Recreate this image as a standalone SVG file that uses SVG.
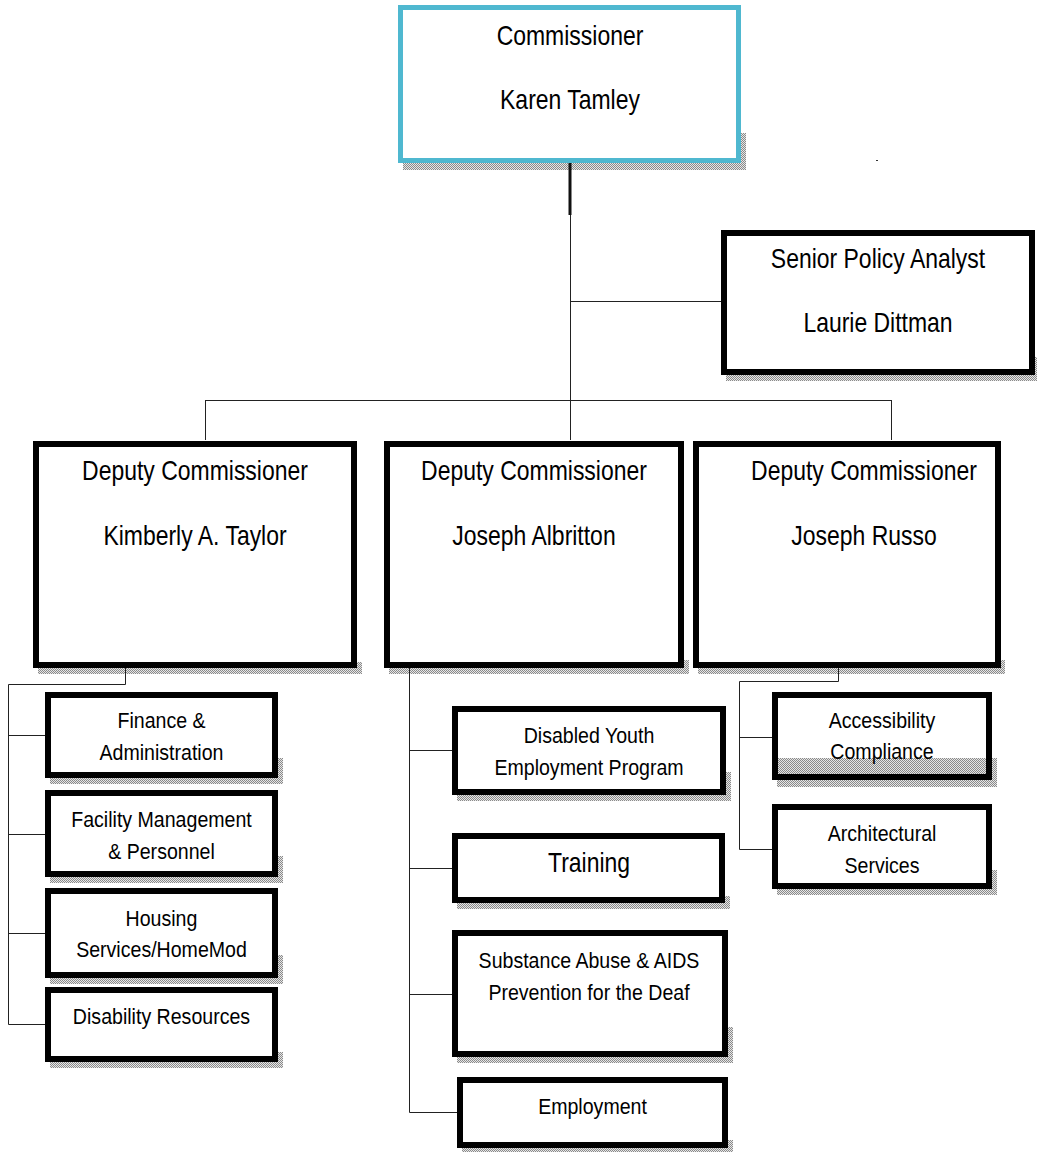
<svg xmlns="http://www.w3.org/2000/svg" width="1037" height="1152" viewBox="0 0 1037 1152">
<defs>
<pattern id="dots" width="2" height="2" patternUnits="userSpaceOnUse">
<rect x="0" y="0" width="1" height="1" fill="#8a8a8a"/>
<rect x="1" y="1" width="1" height="1" fill="#8a8a8a"/>
<rect x="1" y="0" width="1" height="1" fill="#e6e6e6"/>
<rect x="0" y="1" width="1" height="1" fill="#e6e6e6"/>
</pattern>
</defs>
<style>
.box{fill:#fff;stroke:#000;stroke-width:6}
.cbox{fill:#fff;stroke:#4fb8d0;stroke-width:5}
.sh{fill:url(#dots)}
.big{font-family:"Liberation Sans",Arial,sans-serif;font-size:28px;fill:#000;text-anchor:middle}
.sm{font-family:"Liberation Sans",Arial,sans-serif;font-size:22px;fill:#000;text-anchor:middle}
.ln{stroke:#222;stroke-width:1;fill:none}
</style>
<rect width="1037" height="1152" fill="#fff"/>

<g id="commissioner">
<path class="sh" d="M403 163H746V170H403ZM741 133H746V163H741Z"/>
<rect class="cbox" x="400.5" y="7.5" width="338" height="153"/>
<text class="big" transform="translate(570,45) scale(0.82,1)">Commissioner</text>
<text class="big" transform="translate(570,109) scale(0.82,1)">Karen Tamley</text>
</g>
<rect x="876" y="160" width="2" height="1" fill="#333"/>

<g id="senior-policy-analyst">
<path class="sh" d="M726 375H1037V381H726ZM1035 357H1037V375H1035Z"/>
<rect class="box" x="724" y="233" width="308" height="139"/>
<text class="big" transform="translate(878,268) scale(0.82,1)">Senior Policy Analyst</text>
<text class="big" transform="translate(878,332) scale(0.82,1)">Laurie Dittman</text>
</g>

<g id="deputy-taylor">
<path class="sh" d="M38 668H362V674H38ZM357 662H362V668H357Z"/>
<rect class="box" x="36" y="444" width="318" height="221"/>
<text class="big" transform="translate(195,480) scale(0.82,1)">Deputy Commissioner</text>
<text class="big" transform="translate(195,545) scale(0.82,1)">Kimberly A. Taylor</text>
</g>

<g id="deputy-albritton">
<path class="sh" d="M389 668H689V674H389ZM684 660H689V668H684Z"/>
<rect class="box" x="387" y="444" width="294" height="221"/>
<text class="big" transform="translate(534,480) scale(0.82,1)">Deputy Commissioner</text>
<text class="big" transform="translate(534,545) scale(0.82,1)">Joseph Albritton</text>
</g>

<g id="deputy-russo">
<path class="sh" d="M698 668H1005V674H698ZM1000 660H1005V668H1000Z"/>
<rect class="box" x="696" y="444" width="302" height="221"/>
<text class="big" transform="translate(864,480) scale(0.82,1)">Deputy Commissioner</text>
<text class="big" transform="translate(864,545) scale(0.82,1)">Joseph Russo</text>
</g>

<g id="finance">
<path class="sh" d="M50 778H283V784H50ZM278 758H283V778H278Z"/>
<rect class="box" x="48" y="695" width="227" height="80"/>
<text class="sm" transform="translate(161.5,728) scale(0.89,1)">Finance &amp;</text>
<text class="sm" transform="translate(161.5,760) scale(0.89,1)">Administration</text>
</g>

<g id="facility">
<path class="sh" d="M50 877H283V883H50ZM278 856H283V877H278Z"/>
<rect class="box" x="48" y="793" width="227" height="81"/>
<text class="sm" transform="translate(161.5,827) scale(0.89,1)">Facility Management</text>
<text class="sm" transform="translate(161.5,859) scale(0.89,1)">&amp; Personnel</text>
</g>

<g id="housing">
<path class="sh" d="M50 978H283V984H50ZM278 955H283V978H278Z"/>
<rect class="box" x="48" y="891" width="227" height="84"/>
<text class="sm" transform="translate(161.5,926) scale(0.89,1)">Housing</text>
<text class="sm" transform="translate(161.5,957) scale(0.89,1)">Services/HomeMod</text>
</g>

<g id="disability-resources">
<path class="sh" d="M50 1062H283V1068H50ZM278 1052H283V1062H278Z"/>
<rect class="box" x="48" y="990" width="227" height="69"/>
<text class="sm" transform="translate(161.5,1024) scale(0.89,1)">Disability Resources</text>
</g>

<g id="disabled-youth">
<path class="sh" d="M457 795H731V801H457ZM726 772H731V795H726Z"/>
<rect class="box" x="455" y="709" width="268" height="83"/>
<text class="sm" transform="translate(589,743) scale(0.89,1)">Disabled Youth</text>
<text class="sm" transform="translate(589,775) scale(0.89,1)">Employment Program</text>
</g>

<g id="training">
<path class="sh" d="M457 903H730V909H457ZM725 896H730V903H725Z"/>
<rect class="box" x="455" y="836" width="267" height="64"/>
<text class="big" transform="translate(589,872) scale(0.82,1)">Training</text>
</g>

<g id="substance-abuse">
<path class="sh" d="M457 1057H733V1063H457ZM728 1027H733V1057H728Z"/>
<rect class="box" x="455" y="933" width="270" height="121"/>
<text class="sm" transform="translate(589,968) scale(0.89,1)">Substance Abuse &amp; AIDS</text>
<text class="sm" transform="translate(589,1000) scale(0.89,1)">Prevention for the Deaf</text>
</g>

<g id="employment">
<path class="sh" d="M462 1148H733V1152H462ZM728 1140H733V1148H728Z"/>
<rect class="box" x="460" y="1080" width="265" height="65"/>
<text class="sm" transform="translate(592.5,1114) scale(0.89,1)">Employment</text>
</g>

<g id="accessibility">
<path class="sh" d="M777 780H997V787H777ZM992 758H997V780H992Z"/>
<rect class="box" x="775" y="695" width="214" height="82"/>
<rect class="sh" x="778" y="758" width="208" height="16"/>
<text class="sm" transform="translate(882,728) scale(0.89,1)">Accessibility</text>
<text class="sm" transform="translate(882,759) scale(0.89,1)">Compliance</text>
</g>

<g id="architectural">
<path class="sh" d="M777 889H997V895H777ZM992 870H997V889H992Z"/>
<rect class="box" x="775" y="807" width="214" height="79"/>
<text class="sm" transform="translate(882,841) scale(0.89,1)">Architectural</text>
<text class="sm" transform="translate(882,873) scale(0.89,1)">Services</text>
</g>

<g id="connectors">
<line x1="570" y1="163" x2="570" y2="215" stroke="#111" stroke-width="3"/>
<path class="ln" d="M570.5 215V440M570.5 301.5H721M205.5 400.5H891.5M205.5 400V440M891.5 400V440"/>
<path class="ln" d="M125.5 668V684.5H8.5V1024.5H45M8.5 735.5H45M8.5 834.5H45M8.5 933.5H45"/>
<path class="ln" d="M409.5 668V1112.5H457M409.5 750.5H452M409.5 868.5H452M409.5 994.5H452"/>
<path class="ln" d="M838.5 668V681.5H739.5V849.5H772M739.5 737.5H772"/>
</g>
</svg>
